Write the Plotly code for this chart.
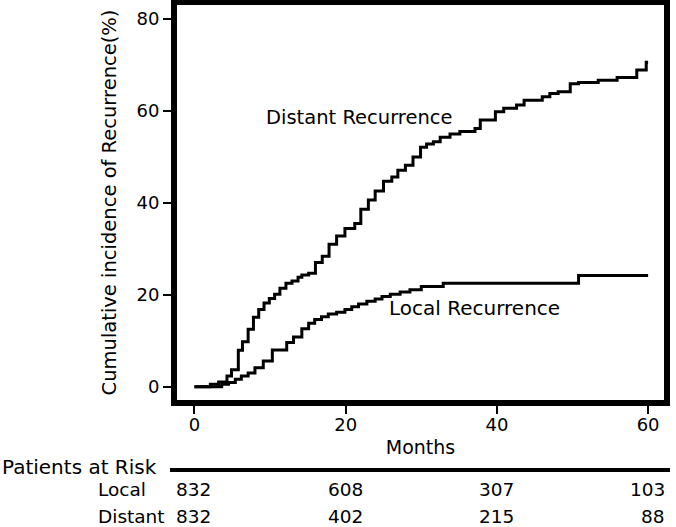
import plotly.graph_objects as go

# ---- data ----
distant_months = [0, 2.1, 3.2, 4.3, 4.9, 5.8, 6.35, 7.1, 7.8, 8.5, 9.2, 9.9, 10.6, 11.3, 12.1,
                  12.9, 13.7, 14.2, 15.1, 16.0, 16.9, 17.8, 18.8, 19.9, 21.2, 22.0, 23.0, 23.9,
                  25.0, 26.1, 26.9, 27.9, 28.9, 29.9, 30.7, 31.6, 32.5, 33.8, 35.1, 37.1, 37.8,
                  39.8, 40.9, 42.6, 43.6, 46.0, 47.0, 48.1, 49.7, 50.8, 53.4, 55.9, 58.5, 59.75, 60.0]
distant_pct = [0, 0.5, 1.0, 2.3, 3.7, 7.9, 9.8, 12.5, 15.1, 16.8, 18.2, 19.2, 20.1, 21.4, 22.5,
               23.0, 23.8, 24.3, 24.7, 27.0, 28.4, 31.0, 32.8, 34.4, 35.5, 38.6, 40.6, 42.6,
               44.7, 45.6, 47.1, 48.2, 50.0, 52.1, 52.8, 53.3, 54.3, 55.0, 55.5, 56.2, 58.0,
               59.8, 60.6, 61.3, 62.3, 63.1, 63.8, 64.2, 65.9, 66.2, 66.7, 67.3, 68.9, 70.6, 70.6]

local_months = [0, 3.6, 4.5, 5.4, 6.2, 7.1, 8.0, 9.1, 10.3, 12.2, 13.1, 14.2, 15.1, 15.9, 16.8,
                17.7, 18.8, 19.9, 20.8, 21.7, 22.8, 23.9, 24.8, 25.9, 27.2, 28.5, 30.0, 32.9, 50.8, 60.0]
local_pct = [0, 0.5, 0.9, 1.6, 2.3, 3.0, 4.1, 5.6, 8.0, 9.6, 10.8, 12.6, 13.8, 14.6, 15.2,
             15.8, 16.2, 16.8, 17.4, 18.0, 18.6, 19.1, 19.6, 20.1, 20.6, 21.1, 21.8, 22.5, 24.2, 24.2]

risk_months = [0, 20, 40, 60]
risk_local = [832, 608, 307, 103]
risk_distant = [832, 402, 215, 88]
risk_groups = ["Local", "Distant"]

x_ticks = [0, 20, 40, 60]
y_ticks = [0, 20, 40, 60, 80]

FONT = "DejaVu Sans"

fig = go.Figure()
fig.add_trace(go.Scatter(x=distant_months, y=distant_pct, mode="lines",
                         line=dict(shape="hv", color="black", width=3),
                         name="Distant Recurrence", showlegend=False))
fig.add_trace(go.Scatter(x=local_months, y=local_pct, mode="lines",
                         line=dict(shape="hv", color="black", width=3),
                         name="Local Recurrence", showlegend=False))

annotations = [
    dict(x=9.2, y=58.6, xref="x", yref="y", text="Distant Recurrence", showarrow=False,
         xanchor="left", yanchor="middle", font=dict(family=FONT, size=19.5, color="black")),
    dict(x=25.5, y=17.2, xref="x", yref="y", text="Local Recurrence", showarrow=False,
         xanchor="left", yanchor="middle", font=dict(family=FONT, size=20, color="black")),
    dict(x=-0.3634, y=-0.1696, xref="paper", yref="paper", text="Patients at Risk",
         showarrow=False, xanchor="left", yanchor="middle",
         font=dict(family=FONT, size=20, color="black")),
]
row_y = [-0.2278, -0.2962]
for grp, vals, ry in zip(risk_groups, [risk_local, risk_distant], row_y):
    annotations.append(dict(x=-0.1663, y=ry, xref="paper", yref="paper", text=grp,
                            showarrow=False, xanchor="left", yanchor="middle",
                            font=dict(family=FONT, size=18.5, color="black")))
    for m, v in zip(risk_months, vals):
        annotations.append(dict(x=m, y=ry, xref="x", yref="paper", text=str(v),
                                showarrow=False, xanchor="right", yanchor="middle", xshift=19,
                                font=dict(family=FONT, size=18.5, color="black")))

fig.update_layout(
    width=676, height=527,
    margin=dict(l=177, r=12, t=5, b=127, autoexpand=False),
    paper_bgcolor="white", plot_bgcolor="white",
    font=dict(family=FONT, color="black"),
    annotations=annotations,
    shapes=[dict(type="line", xref="paper", yref="paper", x0=-0.0144, x1=1.0123,
                 y0=-0.1772, y1=-0.1772, line=dict(color="black", width=4))],
    xaxis=dict(range=[-2.31, 62.1], tickvals=x_ticks, ticktext=[str(t) for t in x_ticks],
               showgrid=False, zeroline=False, showline=True, linewidth=6, linecolor="black",
               mirror=True, ticks="outside", ticklen=8, tickwidth=2, tickcolor="black",
               automargin=False, ticklabelstandoff=-5,
               tickfont=dict(family=FONT, size=18, color="black"),
               title=dict(text="Months", font=dict(family=FONT, size=19, color="black"),
                          standoff=9)),
    yaxis=dict(range=[-2.9, 83.05], tickvals=y_ticks, ticktext=[str(t) for t in y_ticks],
               showgrid=False, zeroline=False, showline=True, linewidth=6, linecolor="black",
               mirror=True, ticks="outside", ticklen=8, tickwidth=2, tickcolor="black",
               automargin=False,
               tickfont=dict(family=FONT, size=18, color="black"),
               title=dict(text="Cumulative incidence of Recurrence(%)",
                          font=dict(family=FONT, size=19.5, color="black"), standoff=17)),
)

fig.write_html("out.html", config={"displayModeBar": False},
               post_script="document.body.style.margin='0';document.body.style.overflow='hidden';")
